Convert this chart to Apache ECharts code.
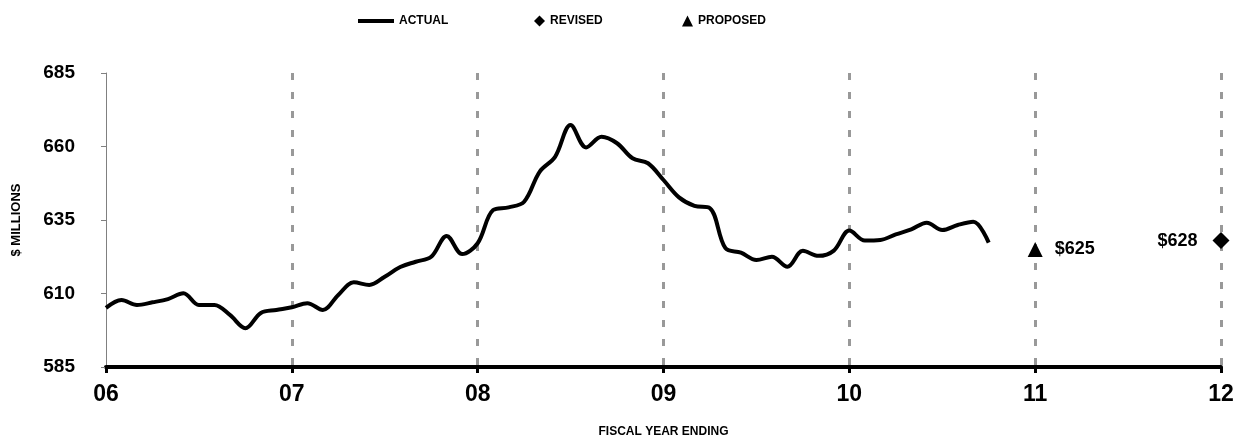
<!DOCTYPE html>
<html>
<head>
<meta charset="utf-8">
<script src="https://cdn.jsdelivr.net/npm/echarts@6/dist/echarts.min.js"></script>
<style>
  html, body { margin: 0; padding: 0; background: #fff; }
  #chart { width: 1242px; height: 443px; }
</style>
</head>
<body>
<div id="chart"></div>
<script>
// tick labels for fiscal years, one per year step
var yearLabels = ["06", "07", "08", "09", "10", "11", "12"];

// monthly actual values, starting at FY06 (month 0)
var actualValues = [
  605.1, 607.8, 606.1, 607.0, 608.1, 610.1, 606.1, 606.1, 602.7, 598.2,
  603.4, 604.4, 605.3, 606.7, 604.4, 609.5, 613.8, 612.9, 615.7, 619.0,
  620.8, 622.5, 629.6, 623.4, 627.1, 638.4, 639.3, 641.2, 651.4, 656.5,
  667.3, 659.7, 663.3, 661.1, 656.0, 654.3, 648.6, 642.7, 639.8, 639.0,
  625.4, 623.9, 621.4, 622.5, 619.1, 624.5, 622.8, 624.6, 631.4, 628.0,
  628.2, 630.1, 631.8, 634.1, 631.6, 633.3, 634.4, 627.3
];

var revisedValue = 628;
var proposedValue = 625;
var revisedYear = 6;
var proposedYear = 5;

var actualData = [];
actualValues.forEach(function (v, i) {
  actualData.push([i / 12, v]);
});

var font = "Liberation Sans, Arial, sans-serif";
var gridColors = ["rgba(0,0,0,0)", "#999999", "#999999", "#999999", "#999999", "#999999", "#999999"];
var legendText = { fontWeight: "bold", fontSize: 12, fontFamily: font, color: "#000" };

var option = {
  backgroundColor: "#ffffff",
  animation: false,
  textStyle: { fontFamily: font, color: "#000" },
  legend: [
    {
      data: [{ name: "ACTUAL", icon: "rect" }],
      left: 353, top: 10,
      itemWidth: 36, itemHeight: 4,
      textStyle: legendText
    },
    {
      data: ["REVISED"],
      left: 529, top: 10,
      itemWidth: 11, itemHeight: 11,
      textStyle: legendText
    },
    {
      data: ["PROPOSED"],
      left: 677, top: 10,
      itemWidth: 11, itemHeight: 11,
      textStyle: legendText
    }
  ],
  grid: { left: 106, right: 21, top: 73, bottom: 76 },
  xAxis: {
    type: "value",
    min: 0, max: 6, interval: 1,
    name: "FISCAL YEAR ENDING",
    nameLocation: "middle",
    nameGap: 59,
    nameTextStyle: { fontWeight: "bold", fontSize: 12, fontFamily: font, color: "#000" },
    axisLine: { lineStyle: { color: "#000", width: 4 } },
    axisTick: { show: true, length: 6, lineStyle: { color: "#000", width: 3 } },
    axisLabel: {
      fontWeight: "bold", fontSize: 23, fontFamily: font, color: "#000", margin: 16,
      formatter: function (v) { return yearLabels[Math.round(v)]; }
    },
    splitLine: { show: true, lineStyle: { color: gridColors, width: 3, type: [7, 12] } }
  },
  yAxis: {
    type: "value",
    min: 585, max: 685, interval: 25,
    name: "$ MILLIONS",
    nameLocation: "middle",
    nameGap: 83,
    nameTextStyle: { fontWeight: "bold", fontSize: 13, fontFamily: font, color: "#000" },
    axisLine: { show: true, lineStyle: { color: "#808080", width: 1 } },
    axisTick: { show: true, length: 5, lineStyle: { color: "#808080", width: 1 } },
    axisLabel: { fontWeight: "bold", fontSize: 19, fontFamily: font, color: "#000", margin: 31 },
    splitLine: { show: false }
  },
  series: [
    {
      name: "ACTUAL",
      type: "line",
      data: actualData,
      smooth: 0.35,
      symbol: "none",
      lineStyle: { color: "#000", width: 4 },
      itemStyle: { color: "#000" },
      z: 5
    },
    {
      name: "REVISED",
      type: "scatter",
      data: [[revisedYear, revisedValue]],
      symbol: "diamond",
      symbolSize: 17,
      itemStyle: { color: "#000", opacity: 1 },
      label: {
        show: true, position: "left", distance: 15,
        fontWeight: "bold", fontSize: 18, fontFamily: font, color: "#000",
        formatter: function (p) { return "$" + p.value[1]; }
      },
      z: 6
    },
    {
      name: "PROPOSED",
      type: "scatter",
      data: [[proposedYear, proposedValue]],
      symbol: "triangle",
      symbolSize: 15,
      itemStyle: { color: "#000", opacity: 1 },
      label: {
        show: true, position: "right", distance: 12,
        fontWeight: "bold", fontSize: 18, fontFamily: font, color: "#000",
        formatter: function (p) { return "$" + p.value[1]; }
      },
      z: 6
    }
  ]
};

var myChart = echarts.init(document.getElementById("chart"));
option && myChart.setOption(option);
</script>
</body>
</html>
